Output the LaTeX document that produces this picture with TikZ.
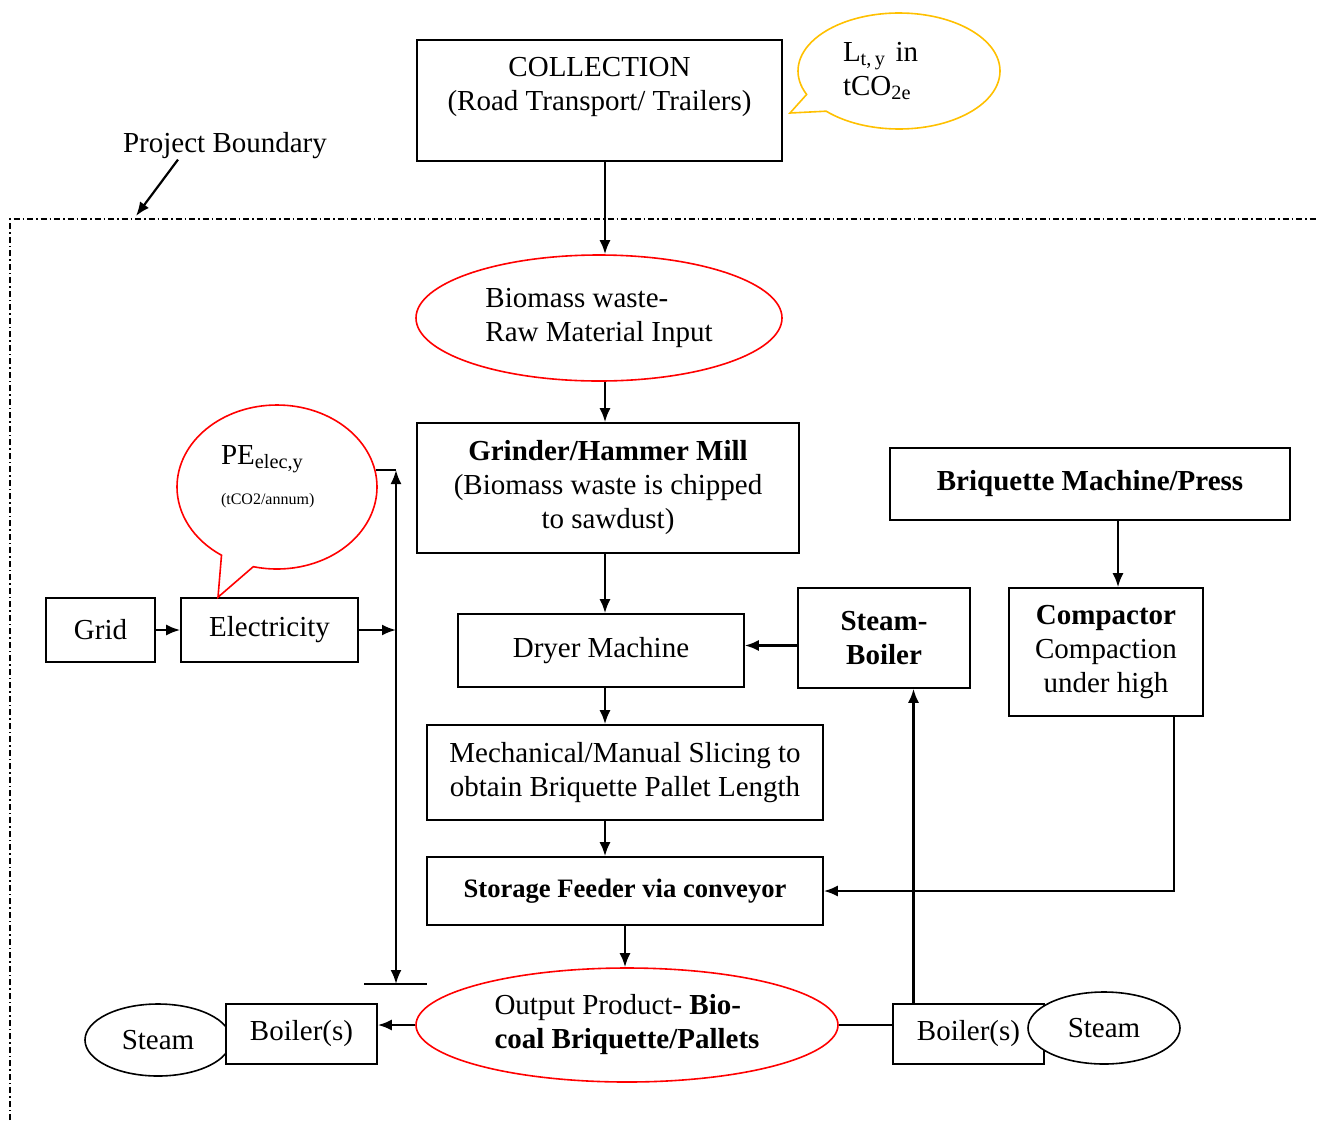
\documentclass[tikz,border=0pt]{standalone}
\usepackage{fontspec}
\setmainfont{Liberation Serif}
\usetikzlibrary{arrows.meta, shapes.geometric, shapes.callouts, calc}
\definecolor{callyellow}{RGB}{255,192,0}

\begin{document}
\begin{tikzpicture}[x=0.5pt, y=-0.5pt,
        every node/.style={font=\fontsize{14.5}{17}\selectfont},
        box/.style={draw, line width=0.8pt, rectangle, inner sep=0pt, align=center},
        oval/.style={draw, line width=0.8pt, ellipse, inner sep=0pt, align=center},
        arr/.style={-{Latex[length=7pt, width=5.5pt]}, line width=1.1pt}]
        \useasboundingbox (0,0) rectangle (1317,1120);

        % project boundary
        \draw[line width=0.6pt, dash pattern=on 3pt off 1.5pt on 0.75pt off 1.5pt] (10,1120) -- (10,219) -- (1317,219);
        \node[inner sep=0pt] (pb) at (225,146) {Project Boundary};
        \coordinate (pbtip) at (136,216);
        \draw[arr] ([xshift=-23.5pt]pb.south) -- (pbtip);

        % main line
        \node[box, minimum width=182.5pt, minimum height=60.5pt] (coll) at (599.5,100.5) {COLLECTION\\(Road Transport/ Trailers)\\\mbox{}};
        \node[ellipse callout, draw=callyellow, line width=0.8pt, inner sep=0pt, align=left, text width=56pt,
              minimum width=101pt, minimum height=58pt,
              callout absolute pointer={(790,113)}, callout pointer arc=20] (lty) at (899,71) {L\textsubscript{t,\,y} in\\tCO\textsubscript{2e}};
        \node[oval, draw=red, align=left, minimum width=183pt, minimum height=63pt] (bio) at (599,318) {Biomass waste-\\Raw Material Input};
        \node[box, minimum width=191pt, minimum height=65pt] (grind) at (608,488) {\textbf{Grinder/Hammer Mill}\\(Biomass waste is chipped\\to sawdust)};
        \node[box, minimum width=143pt, minimum height=36.5pt] (dryer) at (601,650.5) {Dryer Machine};
        \node[box, font=\fontsize{14.5}{17}\selectfont\bfseries, minimum width=86pt, minimum height=50pt] (steamb) at (884,638) {Steam-\\Boiler};
        \node[box, minimum width=198pt, minimum height=47.5pt] (slice) at (625,772.5) {Mechanical/Manual Slicing to\\obtain Briquette Pallet Length};
        \node[box, font=\fontsize{13.3}{16}\selectfont\bfseries, minimum width=198pt, minimum height=34pt] (store) at (625,891) {Storage Feeder via conveyor};
        \node[oval, draw=red, align=left, minimum width=211pt, minimum height=57pt] (out) at (627,1025) {Output Product- \textbf{Bio-}\\\textbf{coal Briquette/Pallets}};

        % boilers
        \node[oval, minimum width=73pt, minimum height=36pt] (steaml) at (158,1040) {Steam};
        \node[box, fill=white, minimum width=75.5pt, minimum height=30pt] (boill) at (301.5,1034) {Boiler(s)};
        \node[box, minimum width=75.5pt, minimum height=30pt] (boilr) at (968.5,1034) {Boiler(s)};
        \node[oval, fill=white, minimum width=76pt, minimum height=36pt] (steamr) at (1104,1028) {Steam};

        % briquetting
        \node[box, font=\fontsize{14.5}{17}\selectfont\bfseries, minimum width=200pt, minimum height=36pt] (briq) at (1090,484) {Briquette Machine/Press};
        \node[box, minimum width=97pt, minimum height=64pt] (comp) at (1106,652) {\textbf{Compactor}\\Compaction\\under high};

        % electricity
        \node[box, minimum width=54.5pt, minimum height=32pt] (grid) at (100.5,630) {Grid};
        \node[box, minimum width=88.5pt, minimum height=32pt] (elec) at (269.5,630) {Electricity};
        \node[ellipse callout, draw=red, line width=0.8pt, inner sep=0pt, align=left, text width=56pt,
              minimum width=100pt, minimum height=82pt,
              callout absolute pointer={([xshift=-25.75pt]elec.north)}, callout pointer arc=20] (pe) at (277,487) {PE\textsubscript{elec,y}\\[3pt]{\fontsize{8}{9.6}\selectfont (tCO2/annum)}\\[-5pt]\mbox{}};
        \coordinate (btop) at (396,470);
        \coordinate (bbot) at (396,984);

        % connectors
        \coordinate (col) at (605,0);
        \draw[arr] (col |- coll.south) -- (col |- bio.north);
        \draw[arr] (col |- bio.south) -- (col |- grind.north);
        \draw[arr] (col |- grind.south) -- (col |- dryer.north);
        \draw[arr] (col |- dryer.south) -- (col |- slice.north);
        \draw[arr] (col |- slice.south) -- (col |- store.north);
        \draw[arr] (store.south) -- (store.south |- out.north);
        \draw[arr] ([yshift=2.5pt]steamb.west |- dryer.east) -- ([yshift=2.5pt]dryer.east);
        \draw[arr] (out.west) -- (out.west -| boill.east);
        \draw[line width=1.1pt] (out.east) -- (out.east -| boilr.west);
        \draw[arr] ([xshift=-27.5pt]boilr.north) -- ([xshift=-27.5pt]boilr.north |- steamb.south);
        \draw[arr] ([xshift=14pt]briq.south) -- ([xshift=14pt]briq.south |- comp.north);
        \draw[arr] ([xshift=34pt]comp.south) |- (store.east);
        \draw[arr] (grid.east) -- (elec.west);
        \draw[arr] (elec.east) -- (elec.east -| btop);
        \draw[{Latex[length=7pt, width=5.5pt]}-{Latex[length=7pt, width=5.5pt]}, line width=1.1pt] (btop) -- (bbot);
        \draw[line width=0.8pt] (btop) -- ++(-20,0);
        \draw[line width=0.8pt] ([xshift=-16pt]bbot) -- ([xshift=15.5pt]bbot);

    \end{tikzpicture}
\end{document}
